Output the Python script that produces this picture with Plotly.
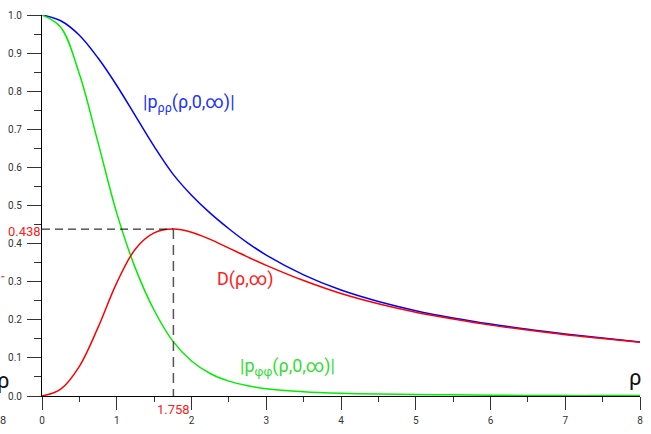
import plotly.graph_objects as go

rho = [0, 0.25, 0.5, 0.75, 1.0, 1.25, 1.5, 1.75, 2.0, 2.25, 2.5, 2.75, 3.0,
       3.5, 4.0, 4.5, 5.0, 5.5, 6.0, 6.5, 7.0, 7.5, 8.0]

p_rr = [1.000, 0.985, 0.947, 0.887, 0.815, 0.735, 0.655, 0.583, 0.527, 0.480, 0.439, 0.402,
        0.370, 0.318, 0.278, 0.248, 0.224, 0.205, 0.189, 0.175, 0.163, 0.152, 0.142]

p_ff = [1.000, 0.968, 0.845, 0.665, 0.480, 0.335, 0.225, 0.144, 0.092, 0.059, 0.039, 0.027,
        0.019, 0.011, 0.007, 0.005, 0.004, 0.003, 0.002, 0.0015, 0.001, 0.001, 0.001]

D = [0.000, 0.018, 0.078, 0.180, 0.297, 0.386, 0.428, 0.438, 0.430, 0.411, 0.388, 0.365,
     0.343, 0.303, 0.269, 0.242, 0.220, 0.202, 0.186, 0.173, 0.161, 0.151, 0.141]

peak_x = 1.758
peak_y = 0.438

fig = go.Figure()
fig.add_trace(go.Scatter(x=rho, y=p_rr, mode="lines", line=dict(color="#0000ff", width=1.5, shape="spline"), cliponaxis=False))
fig.add_trace(go.Scatter(x=rho, y=p_ff, mode="lines", line=dict(color="#00ee00", width=1.5, shape="spline"), cliponaxis=False))
fig.add_trace(go.Scatter(x=rho, y=D, mode="lines", line=dict(color="#ff0000", width=1.5, shape="spline"), cliponaxis=False))

# dashed guides
fig.add_trace(go.Scatter(x=[0, peak_x], y=[peak_y, peak_y], mode="lines",
                         line=dict(color="#000000", width=1, dash="8px,5px"), cliponaxis=False))
fig.add_trace(go.Scatter(x=[peak_x, peak_x], y=[peak_y, 0], mode="lines",
                         line=dict(color="#555555", width=1.5, dash="10px,6px"), cliponaxis=False))

font = "Roboto, Liberation Sans, sans-serif"
ann = [
    dict(x=1.33, y=0.77, text="|p<sub>ρρ</sub>(ρ,0,∞)|", color="#2233ff", size=18, xanchor="left"),
    dict(x=2.31, y=0.308, text="D(ρ,∞)", color="#ff2020", size=18, xanchor="left"),
    dict(x=2.62, y=0.076, text="|p<sub>φφ</sub>(ρ,0,∞)|", color="#33dd33", size=18, xanchor="left"),
]
annotations = []
for a in ann:
    annotations.append(dict(x=a["x"], y=a["y"], xref="x", yref="y", text=a["text"], showarrow=False,
                            xanchor=a["xanchor"], yanchor="middle",
                            font=dict(family=font, size=a["size"], color=a["color"])))
# value labels
annotations.append(dict(x=0, y=peak_y, xref="x", yref="y", text="0.438", showarrow=False,
                        xanchor="right", yanchor="middle", xshift=1, yshift=-2,
                        font=dict(family=font, size=13, color="#ff2020")))
annotations.append(dict(x=peak_x, y=0, xref="x", yref="y", text="1.758", showarrow=False,
                        xanchor="center", yanchor="top", yshift=-4,
                        font=dict(family=font, size=13, color="#ff2020")))
annotations.append(dict(x=8, y=0, xref="x", yref="y", text="ρ", showarrow=False,
                        xanchor="right", yanchor="bottom", xshift=3, yshift=4,
                        font=dict(family=font, size=22, color="#111111")))
# clipped fragments at left edge
annotations.append(dict(x=-0.078, y=0.04, xref="paper", yref="paper", text="ρ", showarrow=False,
                        xanchor="left", yanchor="middle",
                        font=dict(family=font, size=22, color="#111111")))
annotations.append(dict(x=-0.073, y=-0.065, xref="paper", yref="paper", text="8", showarrow=False,
                        xanchor="left", yanchor="middle",
                        font=dict(family=font, size=11, color="#333333")))

fig.update_layout(
    width=651, height=434,
    margin=dict(l=41, r=8, t=15, b=36),
    paper_bgcolor="white", plot_bgcolor="white",
    showlegend=False,
    annotations=annotations,
    shapes=[dict(type="line", xref="paper", yref="paper", x0=-0.068, x1=-0.063, y0=0.313, y1=0.313,
                 line=dict(color="#ff0000", width=1))],
    xaxis=dict(range=[0, 8], showgrid=False, zeroline=False, showline=True, linecolor="#000000", linewidth=1,
               ticks="outside", ticklen=13, tickcolor="#333333", tickwidth=1, dtick=1, tick0=0,
               tickfont=dict(family=font, size=10, color="#333333"), ticklabelstandoff=2,
               minor=dict(dtick=0.5, ticks="outside", ticklen=5, tickcolor="#333333", tickwidth=1)),
    yaxis=dict(range=[0, 1], showgrid=False, zeroline=False, showline=True, linecolor="#000000", linewidth=1,
               ticks="outside", ticklen=14, tickcolor="#333333", tickwidth=1, dtick=0.1, tick0=0,
               tickformat=".1f", tickfont=dict(family=font, size=10, color="#333333"), ticklabelstandoff=3,
               minor=dict(dtick=0.05, ticks="outside", ticklen=7, tickcolor="#333333", tickwidth=1)),
)

fig.write_html("out.html")
